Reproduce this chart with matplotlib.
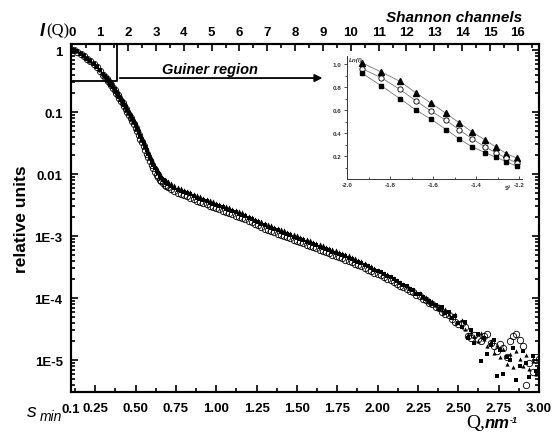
import numpy as np
import matplotlib
matplotlib.use('Agg')
import matplotlib.pyplot as plt
from matplotlib.ticker import LogLocator, NullFormatter

plt.rcParams['font.family'] = ['Liberation Sans', 'DejaVu Sans']
plt.rcParams['font.weight'] = 'bold'

# Q, nm^-1
q = [0.12, 0.14, 0.16, 0.18, 0.20, 0.22, 0.24, 0.26, 0.28, 0.30,
     0.31, 0.32, 0.33, 0.34, 0.35, 0.36, 0.37, 0.38, 0.39, 0.40,
     0.41, 0.42, 0.43, 0.44, 0.45, 0.46, 0.47, 0.48, 0.49, 0.50,
     0.51, 0.52, 0.53, 0.54, 0.55, 0.56, 0.57, 0.58, 0.59, 0.60,
     0.61, 0.62, 0.63, 0.64, 0.65, 0.66, 0.67, 0.68, 0.69, 0.70,
     0.72, 0.74, 0.76, 0.78, 0.80, 0.82, 0.84, 0.86, 0.88, 0.90,
     0.92, 0.94, 0.96, 0.98, 1.00, 1.02, 1.04, 1.06, 1.08, 1.10,
     1.12, 1.14, 1.16, 1.18, 1.20, 1.22, 1.24, 1.26, 1.28, 1.30,
     1.32, 1.34, 1.36, 1.38, 1.40, 1.42, 1.44, 1.46, 1.48, 1.50,
     1.52, 1.54, 1.56, 1.58, 1.60, 1.62, 1.64, 1.66, 1.68, 1.70,
     1.72, 1.74, 1.76, 1.78, 1.80, 1.82, 1.84, 1.86, 1.88, 1.90,
     1.92, 1.94, 1.96, 1.98, 2.00, 2.02, 2.04, 2.06, 2.08, 2.10,
     2.12, 2.14, 2.16, 2.18, 2.20, 2.22, 2.24, 2.26, 2.28, 2.30,
     2.32, 2.34, 2.36, 2.38, 2.40, 2.42, 2.44, 2.46, 2.48, 2.50,
     2.52, 2.54, 2.56, 2.58, 2.60, 2.62, 2.64, 2.66, 2.68, 2.70,
     2.72, 2.74, 2.76, 2.78, 2.80, 2.82, 2.84, 2.86, 2.88, 2.90,
     2.92, 2.94, 2.96, 2.98, 3.00]

# log10 of relative intensity, open circles
lg_circ = [0.00, -0.03, -0.06, -0.10, -0.14, -0.18, -0.23, -0.28, -0.34, -0.40,
           -0.43, -0.47, -0.50, -0.54, -0.57, -0.61, -0.65, -0.69, -0.73, -0.77,
           -0.82, -0.86, -0.90, -0.95, -1.00, -1.05, -1.09, -1.15, -1.20, -1.25,
           -1.31, -1.37, -1.43, -1.49, -1.55, -1.61, -1.67, -1.73, -1.79, -1.85,
           -1.91, -1.96, -2.01, -2.05, -2.09, -2.12, -2.15, -2.17, -2.19, -2.21,
           -2.24, -2.27, -2.30, -2.32, -2.34, -2.36, -2.38, -2.41, -2.43, -2.45,
           -2.47, -2.49, -2.51, -2.53, -2.55, -2.57, -2.59, -2.61, -2.63, -2.65,
           -2.67, -2.69, -2.71, -2.73, -2.76, -2.78, -2.81, -2.83, -2.85, -2.88,
           -2.90, -2.92, -2.94, -2.96, -2.98, -3.00, -3.02, -3.04, -3.06, -3.08,
           -3.10, -3.12, -3.14, -3.16, -3.18, -3.20, -3.22, -3.24, -3.26, -3.28,
           -3.30, -3.32, -3.34, -3.36, -3.38, -3.40, -3.42, -3.45, -3.47, -3.49,
           -3.51, -3.54, -3.56, -3.59, -3.61, -3.63, -3.66, -3.69, -3.71, -3.74,
           -3.77, -3.80, -3.82, -3.85, -3.88, -3.90, -3.95, -3.96, -4.02, -4.03,
           -4.08, -4.09, -4.15, -4.16, -4.22, -4.25, -4.28, -4.34, -4.38, -4.42,
           -4.40, -4.47, -4.62, -4.64, -4.60, -4.66, -4.70, -4.62, -4.58, -4.72,
           -4.78, -4.85, -4.74, -4.80, -4.95, -4.70, -4.62, -4.58, -4.68, -4.78,
           -5.40, -5.05, -5.20, -4.95, -4.98]

# filled triangles
lg_tri = [0.00, -0.02, -0.05, -0.09, -0.13, -0.17, -0.21, -0.26, -0.32, -0.38,
          -0.40, -0.44, -0.47, -0.51, -0.54, -0.58, -0.61, -0.65, -0.69, -0.73,
          -0.77, -0.81, -0.85, -0.89, -0.94, -0.99, -1.03, -1.08, -1.13, -1.18,
          -1.23, -1.29, -1.35, -1.41, -1.46, -1.52, -1.58, -1.64, -1.70, -1.76,
          -1.81, -1.87, -1.91, -1.95, -1.99, -2.03, -2.06, -2.08, -2.10, -2.12,
          -2.15, -2.18, -2.21, -2.23, -2.25, -2.27, -2.29, -2.32, -2.34, -2.36,
          -2.38, -2.40, -2.42, -2.44, -2.46, -2.48, -2.50, -2.52, -2.54, -2.56,
          -2.58, -2.60, -2.62, -2.64, -2.67, -2.69, -2.72, -2.74, -2.76, -2.79,
          -2.81, -2.83, -2.85, -2.87, -2.89, -2.91, -2.93, -2.95, -2.97, -2.99,
          -3.01, -3.03, -3.05, -3.07, -3.09, -3.11, -3.13, -3.15, -3.17, -3.19,
          -3.21, -3.23, -3.25, -3.27, -3.29, -3.31, -3.34, -3.36, -3.38, -3.41,
          -3.43, -3.46, -3.48, -3.51, -3.54, -3.56, -3.59, -3.62, -3.65, -3.68,
          -3.71, -3.74, -3.77, -3.80, -3.84, -3.86, -3.91, -3.92, -3.98, -3.99,
          -4.06, -4.05, -4.12, -4.13, -4.20, -4.17, -4.26, -4.30, -4.25, -4.38,
          -4.35, -4.50, -4.58, -4.55, -4.62, -4.70, -4.57, -4.66, -4.78, -4.70,
          -4.88, -4.76, -4.95, -4.82, -5.06, -4.90, -5.12, -4.85, -4.98, -5.10,
          -4.92, -5.15, -5.02, -5.22, -4.96]

# filled squares
lg_sq = [0.00, -0.02, -0.06, -0.10, -0.14, -0.18, -0.22, -0.27, -0.33, -0.39,
         -0.42, -0.46, -0.49, -0.53, -0.56, -0.60, -0.63, -0.67, -0.71, -0.75,
         -0.80, -0.84, -0.88, -0.92, -0.97, -1.02, -1.06, -1.11, -1.16, -1.21,
         -1.27, -1.33, -1.39, -1.45, -1.50, -1.56, -1.62, -1.68, -1.74, -1.80,
         -1.85, -1.90, -1.95, -1.99, -2.03, -2.07, -2.10, -2.12, -2.14, -2.16,
         -2.19, -2.22, -2.25, -2.27, -2.29, -2.31, -2.33, -2.36, -2.38, -2.40,
         -2.42, -2.44, -2.46, -2.48, -2.50, -2.52, -2.54, -2.56, -2.58, -2.60,
         -2.62, -2.64, -2.66, -2.68, -2.71, -2.73, -2.76, -2.78, -2.80, -2.83,
         -2.85, -2.87, -2.89, -2.91, -2.93, -2.95, -2.97, -2.99, -3.01, -3.03,
         -3.05, -3.07, -3.09, -3.11, -3.13, -3.15, -3.17, -3.19, -3.21, -3.23,
         -3.25, -3.27, -3.29, -3.31, -3.33, -3.35, -3.37, -3.40, -3.42, -3.44,
         -3.46, -3.49, -3.51, -3.54, -3.56, -3.58, -3.61, -3.64, -3.66, -3.69,
         -3.73, -3.75, -3.79, -3.81, -3.86, -3.87, -3.93, -3.94, -3.99, -4.02,
         -4.05, -4.10, -4.11, -4.17, -4.15, -4.24, -4.22, -4.32, -4.29, -4.40,
         -4.46, -4.38, -4.65, -4.52, -4.72, -4.58, -5.02, -4.64, -4.90, -4.76,
         -4.68, -5.26, -4.84, -5.23, -4.95, -5.00, -4.80, -5.32, -5.10, -4.86,
         -5.05, -5.28, -4.94, -5.18, -5.14]

xtick_vals = [0.25, 0.50, 0.75, 1.00, 1.25, 1.50, 1.75, 2.00, 2.25, 2.50, 2.75, 3.00]
xtick_lbls = ['0.25', '0.50', '0.75', '1.00', '1.25', '1.50', '1.75', '2.00', '2.25', '2.50', '2.75', '3.00']
ytick_vals = [1, 0.1, 0.01, 1e-3, 1e-4, 1e-5]
ytick_lbls = ['1', '0.1', '0.01', '1E-3', '1E-4', '1E-5']
shannon = list(range(17))

# inset: Guinier plot
s2 = [-1.93, -1.84, -1.755, -1.68, -1.61, -1.54, -1.48, -1.42, -1.36, -1.31, -1.26, -1.21]
ln_tri = [1.01, 0.93, 0.85, 0.75, 0.66, 0.57, 0.49, 0.41, 0.34, 0.28, 0.22, 0.18]
ln_circ = [0.96, 0.88, 0.78, 0.68, 0.59, 0.51, 0.43, 0.35, 0.28, 0.23, 0.18, 0.14]
ln_sq = [0.92, 0.81, 0.70, 0.60, 0.52, 0.43, 0.35, 0.28, 0.23, 0.19, 0.15, 0.11]

W, H = 553, 439
def fx(px): return px / W
def fy(py): return 1 - py / H

fig = plt.figure(figsize=(5.53, 4.39), dpi=100)
ax = fig.add_axes([fx(71), fy(393), 468 / W, 348 / H])

qa = np.array(q)
ax.plot(qa, 10 ** np.array(lg_tri), ls='none', marker='^', ms=3.0, color='black', mew=0)
ax.plot(qa, 10 ** np.array(lg_sq), ls='none', marker='s', ms=2.4, color='black', mew=0)
ax.plot(qa, 10 ** np.array(lg_circ), ls='none', marker='o', ms=4.6, mfc='none', mec='black', mew=0.6)

ax.set_yscale('log')
ax.set_xlim(0.1, 3.0)
ax.set_ylim(3.05e-6, 1.25)
ax.set_xticks(xtick_vals, xtick_lbls)
ax.set_xticks(np.arange(0.125, 3.0, 0.25), minor=True)
ax.set_yticks(ytick_vals, ytick_lbls)
ax.yaxis.set_minor_locator(LogLocator(base=10, subs=np.arange(2, 10)))
ax.yaxis.set_minor_formatter(NullFormatter())
ax.tick_params(which='both', direction='in', top=False, right=True, width=1.2, labelsize=9.5)
ax.tick_params(which='major', length=5)
ax.tick_params(which='minor', length=3)
ax.tick_params(axis='x', pad=7)
ax.tick_params(axis='y', pad=6)
for sp in ax.spines.values():
    sp.set_linewidth(1.5)
ax.set_ylabel('relative units', fontsize=12.5, fontweight='bold', labelpad=4)

# top axis: Shannon channels
ax2 = ax.twiny()
ax2.set_xlim(-0.05, 16.76)
ax2.set_xticks(shannon)
ax2.set_xticks(np.arange(0.5, 16.6, 1.0), minor=True)
ax2.tick_params(which='both', direction='in', width=1.2, labelsize=9.5, pad=4)
ax2.tick_params(which='major', length=5)
ax2.tick_params(which='minor', length=3)
for sp in ax2.spines.values():
    sp.set_linewidth(1.5)

# Guinier region box and arrow
ax.plot([0.385, 0.385, 0.1], [1.25, 0.316, 0.316], color='black', lw=1.3, clip_on=False)
ax.annotate('', xy=(1.675, 0.353), xytext=(0.385, 0.353),
            arrowprops=dict(arrowstyle='-|>', color='black', lw=1.3, mutation_scale=11))
ax.text(0.962, 0.50, 'Guiner region', ha='center', va='center',
        fontsize=10.5, fontstyle='italic', fontweight='bold')

# axis titles written as free text
fig.text(fx(40), fy(31), 'I', fontsize=13, fontstyle='italic', fontweight='bold', va='center')
fig.text(fx(46), fy(31), '(Q)', fontsize=12, family='Liberation Serif', fontweight='normal', va='center')
fig.text(fx(522), fy(18), 'Shannon channels', fontsize=11, fontstyle='italic', fontweight='bold',
         ha='right', va='center')
fig.text(fx(466), fy(428), 'Q,', fontsize=14, family='Liberation Serif', fontweight='normal', va='baseline')
fig.text(fx(485), fy(428), 'nm', fontsize=12, fontstyle='italic', fontweight='bold', va='baseline')
fig.text(fx(510), fy(423), '-1', fontsize=6.5, fontstyle='italic', fontweight='bold', va='baseline')
fig.text(fx(27), fy(417), 's', fontsize=14, fontstyle='italic', fontweight='normal', va='baseline')
fig.text(fx(40), fy(421), 'min', fontsize=10, fontstyle='italic', fontweight='normal', va='baseline')
fig.text(fx(62), fy(410), '0.1', fontsize=9.5, fontweight='bold', va='center')

# inset
axi = fig.add_axes([fx(347), fy(180), 175 / W, 123 / H])
axi.plot(s2, ln_tri, color='#777777', lw=0.6, marker='^', ms=4, mfc='black', mec='black')
axi.plot(s2, ln_circ, color='#777777', lw=0.6, marker='o', ms=3.8, mfc='white', mec='black', mew=0.6)
axi.plot(s2, ln_sq, color='#777777', lw=0.6, marker='s', ms=3, mfc='black', mec='black')
axi.set_xlim(-2.0, -1.188)
axi.set_ylim(0, 1.07)
axi.set_xticks([-2.0, -1.8, -1.6, -1.4, -1.2], ['-2.0', '-1.8', '-1.6', '-1.4', '-1.2'])
axi.set_xticks([-1.9, -1.7, -1.5, -1.3], minor=True)
axi.set_yticks([0.2, 0.4, 0.6, 0.8, 1.0], ['0.2', '0.4', '0.6', '0.8', '1.0'])
axi.set_yticks([0.1, 0.3, 0.5, 0.7, 0.9], minor=True)
axi.tick_params(axis='x', which='both', direction='in', labelsize=4.5, pad=2, colors='#333333')
axi.tick_params(axis='y', which='both', direction='out', labelsize=4.5, pad=1.5, colors='#333333')
axi.tick_params(which='major', length=2.5, width=0.6)
axi.tick_params(which='minor', length=1.5, width=0.6)
axi.spines['top'].set_visible(False)
axi.spines['right'].set_visible(False)
for k in ['left', 'bottom']:
    axi.spines[k].set_linewidth(0.7)
    axi.spines[k].set_color('#333333')
axi.patch.set_alpha(0)
axi.text(-1.99, 1.06, 'Ln(I)', fontsize=4.5, fontstyle='italic', va='top', ha='left', color='#333333')
fig.text(fx(505), fy(189), 's²', fontsize=5, va='center', color='#333333')

fig.savefig('out.png', dpi=100)
